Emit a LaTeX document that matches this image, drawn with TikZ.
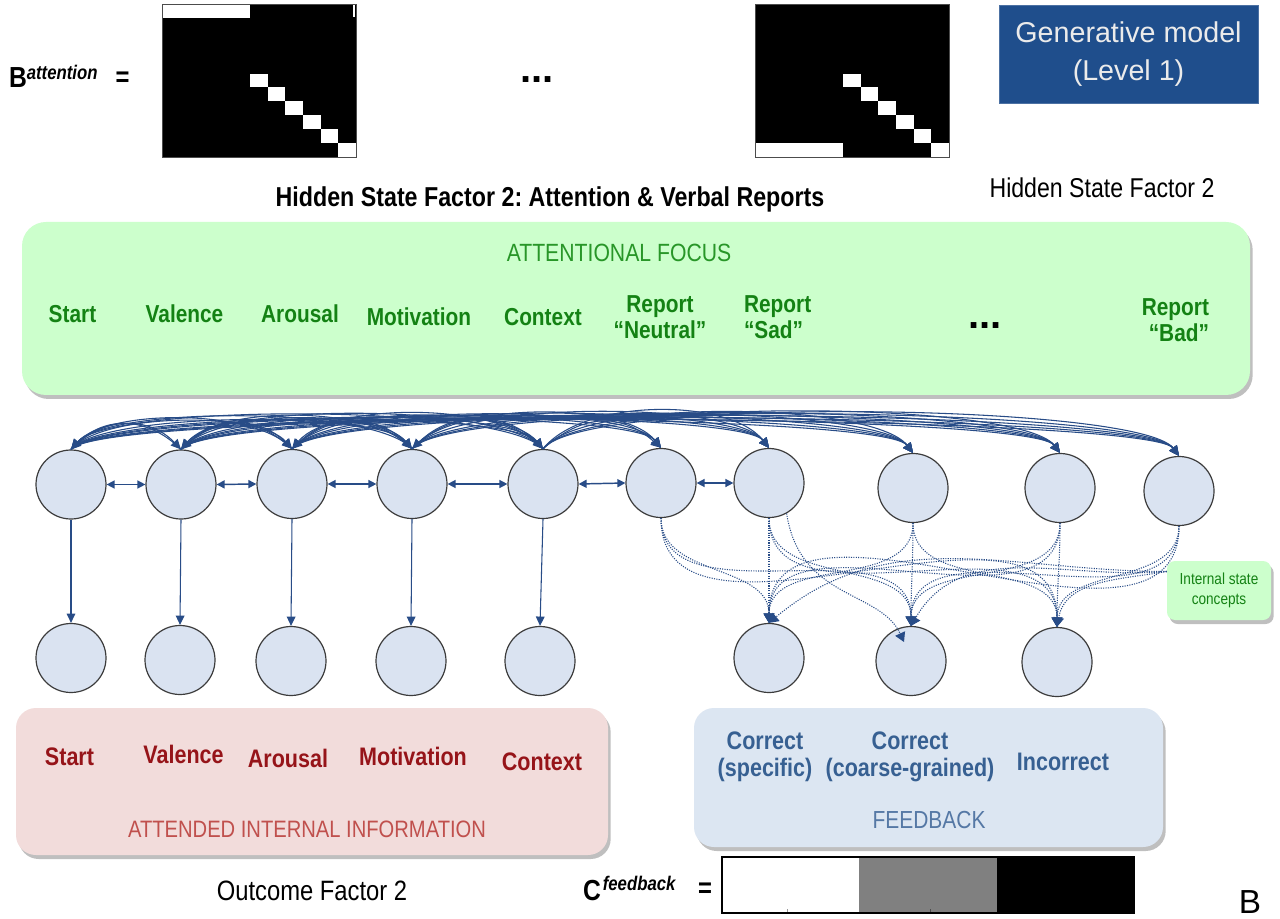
\documentclass[tikz,border=0pt]{standalone}
\usepackage{fontspec}
\setmainfont{Liberation Sans}[FakeStretch=0.85]
\newfontfamily\plainsans{Liberation Sans}
\usetikzlibrary{shapes.geometric,arrows.meta,shadows,calc}
\frenchspacing
\definecolor{greenfill}{RGB}{204,255,204}
\definecolor{greentxt}{RGB}{20,130,20}
\definecolor{greenlt}{RGB}{40,150,40}
\definecolor{redfill}{RGB}{242,220,219}
\definecolor{redtxt}{RGB}{150,20,25}
\definecolor{redlt}{RGB}{192,80,77}
\definecolor{bluefill}{RGB}{220,230,242}
\definecolor{bluetxt}{RGB}{55,96,146}
\definecolor{bluelt}{RGB}{85,120,165}
\definecolor{nodefill}{RGB}{218,227,241}
\definecolor{nodeline}{RGB}{60,60,60}
\definecolor{conn}{RGB}{40,76,135}
\definecolor{genblue}{RGB}{31,78,140}
\definecolor{gentext}{RGB}{235,235,235}
\newcommand\fsz[2]{\fontsize{#1pt}{#2pt}\selectfont}
\begin{document}
\begin{tikzpicture}[x=0.75pt,y=-0.75pt,
  lbl/.style={inner sep=0pt, outer sep=0pt},
  glab/.style={lbl, text=greentxt, font=\fsz{18.4}{19.5}\bfseries, anchor=base},
  gtwo/.style={lbl, text=greentxt, font=\fsz{18.4}{19.5}\bfseries, align=center},
  rlab/.style={lbl, text=redtxt, font=\fsz{19}{21}\bfseries, anchor=base},
  blab/.style={lbl, text=bluetxt, font=\fsz{19}{20.25}\bfseries, anchor=base},
  btwo/.style={lbl, text=bluetxt, font=\fsz{19}{20.25}\bfseries, align=center},
  st/.style={ellipse, draw=nodeline, fill=nodefill, line width=0.9pt,
    minimum width=52.5pt, minimum height=51.75pt, inner sep=0pt},
  panel/.style={rectangle, draw=none, inner sep=0pt,
    drop shadow={shadow xshift=2pt, shadow yshift=-3pt, opacity=0.45, fill=black!55}},
  topc/.style={draw=conn, line width=0.8pt, -{Triangle[length=7.5pt,width=7pt]}},
  bidir/.style={draw=conn, line width=1.1pt, {Triangle[length=6pt,width=6pt]}-{Triangle[length=6pt,width=6pt]}},
  vert/.style={draw=conn, line width=0.8pt, -{Triangle[length=7pt,width=6.5pt]}},
  dotc/.style={draw=conn, line width=0.8pt, densely dotted, -{Triangle[length=7pt,width=8pt]}},
  bigdots/.style={lbl, font=\plainsans\fsz{30}{32}\bfseries, anchor=base}
]
\useasboundingbox (0,0) rectangle (1280,919);
\fill[white] (0,0) rectangle (1280,919);

% ---------- top: B matrices ----------
\node[lbl, anchor=base west] (batt) at (9,88)
  {\fsz{21.75}{24}\bfseries B\raisebox{6.5pt}{\fsz{14.8}{16}\bfseries\itshape attention}};
\node[lbl, font=\fsz{21}{24}\bfseries] (eq1) at (122.5,79) {=};

\fill[black] (162,4) rectangle (356,157);
\fill[white] (162,4) rectangle ++(5*17.636,13.909);
\foreach \k in {5,...,10} \fill[white] (162+\k*17.636,4+\k*13.909) rectangle ++(17.636,13.909);
\draw[white, line width=1pt] (354,5) -- (354,17);
\draw[black!70, line width=0.6pt] (162,4) rectangle (356,157);

\node[bigdots] (dots1) at (537,83) {...};

\fill[black] (755,4) rectangle (949,157);
\fill[white] (755,157-13.909) rectangle ++(5*17.636,13.909);
\foreach \k in {5,...,10} \fill[white] (755+\k*17.636,4+\k*13.909) rectangle ++(17.636,13.909);
\draw[black!70, line width=0.6pt] (755,4) rectangle (949,157);

\node[rectangle, fill=genblue, draw=genblue!80!white, minimum width=194.25pt, minimum height=73.5pt,
  align=center, text=gentext, font=\plainsans\fsz{21.5}{28}] (gen) at (1128.5,54) {Generative model\\(Level 1)};

% ---------- headings ----------
\node[lbl, anchor=base, font=\fsz{20.5}{22}\bfseries] (hdr) at (550,207) {Hidden State Factor 2: Attention \& Verbal Reports};
\node[lbl, anchor=base, font=\fsz{20.4}{22}] (hsf) at (1102,198) {Hidden State Factor 2};

% ---------- green panel ----------
\node[panel, fill=greenfill, rounded corners=18pt, minimum width=921pt, minimum height=129.75pt] (att) at (636,308.5) {};
\node[lbl, anchor=base, text=greenlt, font=\fsz{18.7}{20}] (attf) at (619,262) {ATTENTIONAL FOCUS};
\node[glab] (gStart) at (72.5,323) {Start};
\node[glab] (gVal) at (184.5,323) {Valence};
\node[glab] (gAro) at (300,323) {Arousal};
\node[glab] (gMot) at (419,326) {Motivation};
\node[glab] (gCon) at (543,326) {Context};
\node[gtwo] (gNeu) at (660,317) {Report\\“Neutral”};
\node[gtwo, align=left, anchor=west] (gSad) at (744,317) {Report\\“Sad”};
\node[bigdots] (dots2) at (985,329) {...};
\node[gtwo, align=right, anchor=east] (gBad) at (1209,320) {Report\\“Bad”};

% ---------- hidden state nodes ----------
\node[st] (t1) at (71,484.5) {};
\node[st] (t2) at (181,484.5) {};
\node[st] (t3) at (292,484) {};
\node[st] (t4) at (412,484) {};
\node[st] (t5) at (543,484) {};
\node[st] (t6) at (661,483) {};
\node[st] (t7) at (769,483) {};
\node[st] (t8) at (913,488) {};
\node[st] (t9) at (1060,488) {};
\node[st] (t10) at (1179,491) {};

\node[st] (b1) at (71,658) {};
\node[st] (b2) at (180,660) {};
\node[st] (b3) at (291,661) {};
\node[st] (b4) at (411,661) {};
\node[st] (b5) at (540,661) {};

\node[st] (f1) at (769,658) {};
\node[st] (f2) at (911,661) {};
\node[st] (f3) at (1057,662) {};

% ---------- transitions among hidden states ----------
\def\xs{{71,181,292,412,543,661,769,913,1060,1179}}
\foreach \i in {1,...,5} {
  \foreach \j in {1,...,10} {
    \ifnum\i=\j\relax\else
      \pgfmathsetmacro\dx{\xs[\j-1]-\xs[\i-1]}
      \pgfmathsetmacro\sg{sign(\dx)}
      \pgfmathsetmacro\hh{min(44+2.5*(\i-3)+0.8*(\j-5), 6+0.25*abs(\dx))}
      \pgfmathsetmacro\hx{30+2*\i}
      \draw[topc] (t\i.north) .. controls +(\sg*\hx,-\hh) and +(-\sg*\hx,-\hh) .. (t\j.north);
    \fi
  }
}
\foreach \a/\b in {1/2,2/3,3/4,4/5,5/6,6/7}
  \draw[bidir] (t\a.east) -- (t\b.west);

\foreach \i in {1,...,5}
  \draw[vert] (t\i.south) -- (b\i.north);

% ---------- internal state concepts ----------
\node[panel, fill=greenfill, rounded corners=6pt, minimum width=78pt, minimum height=44.25pt,
  align=center, text=greentxt, font=\fsz{12}{15}] (isc) at (1219,590.5) {Internal state\\concepts};

\foreach \t in {6,...,10}
  \foreach \f in {1,2,3}
    \draw[dotc] (t\t.south) to[out=-90,in=90] (f\f.north);
\draw[dotc] (isc.160) to[out=180,in=40] (f1.north);
\draw[dotc] (isc.160) to[out=185,in=60] (f2.north);
\draw[dotc] (isc.160) to[out=190,in=80] (f3.north);
\coordinate (strayend) at (904,642);
\draw[dotc] (t7.-60) .. controls (800,600) and (880,590) .. (strayend);

% ---------- red panel ----------
\node[panel, fill=redfill, rounded corners=15pt, minimum width=444pt, minimum height=110.25pt] (aii) at (312,781.5) {};
\node[rlab] (rStart) at (69.5,765) {Start};
\node[rlab] (rVal) at (183.5,763) {Valence};
\node[rlab] (rAro) at (288,767) {Arousal};
\node[rlab] (rMot) at (413,765) {Motivation};
\node[rlab] (rCon) at (542,770) {Context};
\node[lbl, anchor=base, text=redlt, font=\fsz{17.8}{20}] (aiit) at (307,837) {ATTENDED INTERNAL INFORMATION};

% ---------- blue panel ----------
\node[panel, fill=bluefill, rounded corners=15pt, minimum width=351.75pt, minimum height=104.25pt] (fb) at (928.5,777.5) {};
\node[btwo] (bc1) at (765,757) {Correct\\(specific)};
\node[btwo] (bc2) at (910,757) {Correct\\(coarse-grained)};
\node[blab] (binc) at (1063,770) {Incorrect};
\node[lbl, anchor=base, text=bluelt, font=\fsz{18.5}{20}] (fbt) at (929,828) {FEEDBACK};

% ---------- bottom ----------
\node[lbl, anchor=base, font=\fsz{21}{22}] (ofac) at (312,900) {Outcome Factor 2};
\node[lbl, anchor=base west] (cfb) at (583,900)
  {\fsz{21.75}{24}\bfseries C\hspace{1.5pt}\raisebox{7pt}{\fsz{14.8}{16}\bfseries\itshape feedback}};
\node[lbl, font=\fsz{21}{24}\bfseries] (eq2) at (705,890) {=};

\fill[white] (722,857) rectangle (859,913);
\fill[black!50] (859,857) rectangle (997,913);
\fill[black] (997,857) rectangle (1134,913);
\draw[black!40, line width=0.5pt] (787,909) -- (787,913);
\draw[black!70, line width=0.5pt] (930,909) -- (930,913);
\draw[black, line width=0.8pt] (722,857) rectangle (1134,913);

\node[lbl, anchor=base, font=\plainsans\fsz{25}{28}] (blab) at (1250,913) {B};
\end{tikzpicture}
\end{document}
